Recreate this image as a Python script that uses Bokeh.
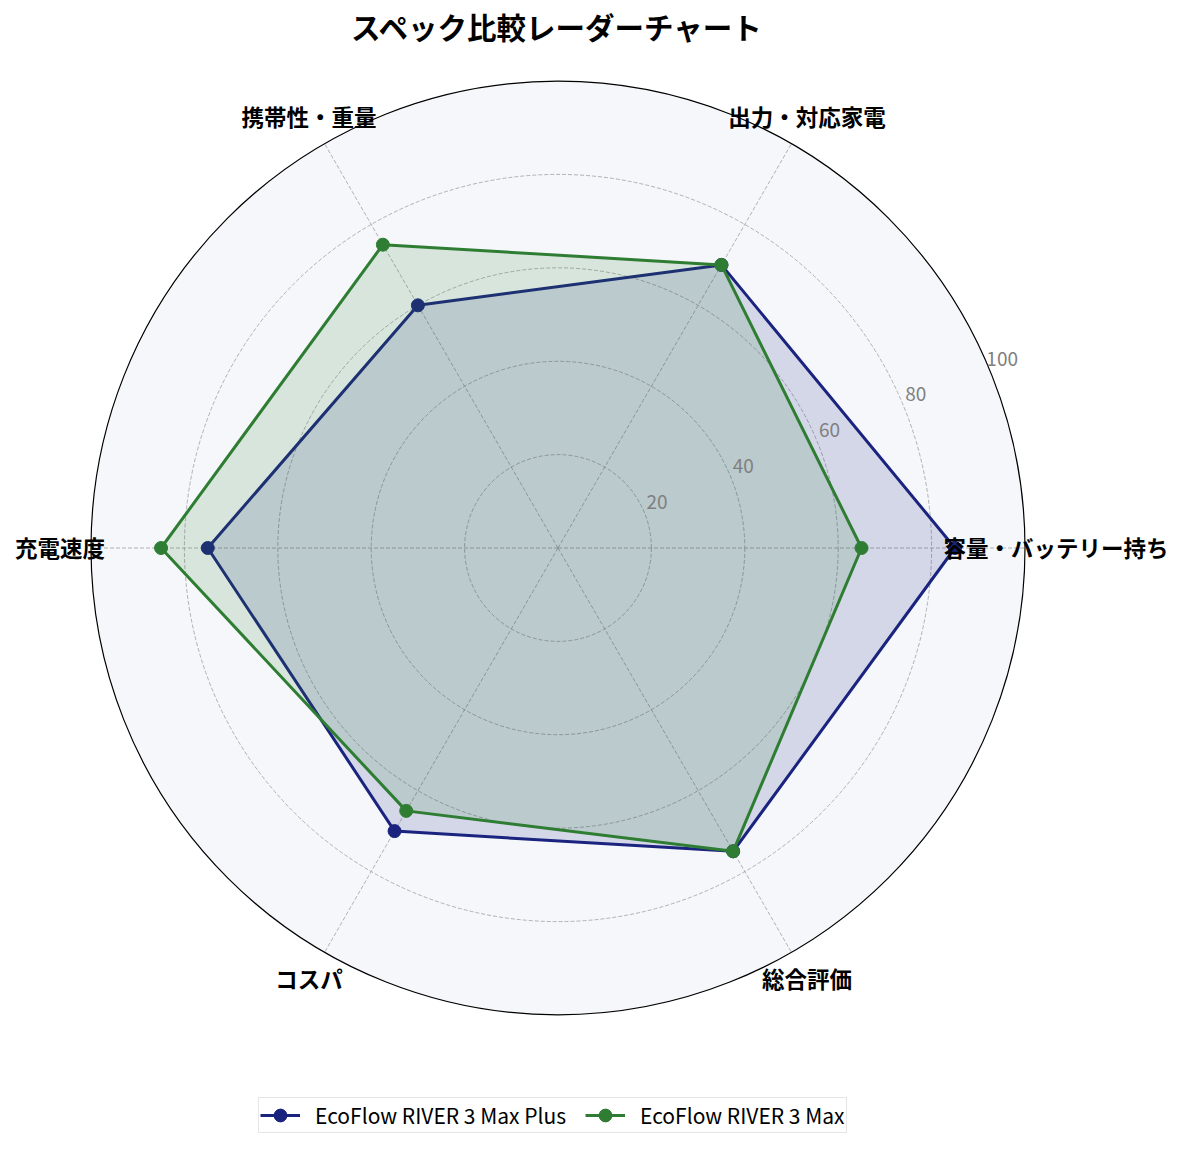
import numpy as np
from bokeh.plotting import figure
from bokeh.models import Range1d, Label
from bokeh.embed import file_html
from bokeh.resources import INLINE
from bokeh.core.properties import value

# ---- data ----
categories = ["容量・バッテリー持ち", "出力・対応家電", "携帯性・重量", "充電速度", "コスパ", "総合評価"]
plus_values = [85, 70, 60, 75, 70, 75]
max_values = [65, 70, 75, 85, 65, 75]
series_names = ["EcoFlow RIVER 3 Max Plus", "EcoFlow RIVER 3 Max"]
series_colors = ["#1a237e", "#2e7d32"]
radial_ticks = [20, 40, 60, 80]
tick_labels = ["20", "40", "60", "80", "100"]
tick_values = [20, 40, 60, 80, 100]
r_max = 100
title_text = "スペック比較レーダーチャート"

FONT = "Noto Sans CJK JP"

# ---- layout ----
W, H = 1169, 1133
scale = 4.67            # pixels per value unit
cx, cy = 557.5, 547.5   # centre in figure pixels (from top-left)

p = figure(width=W, height=H, output_backend="svg", toolbar_location=None,
           x_range=Range1d(-cx / scale, (W - cx) / scale),
           y_range=Range1d(-(H - cy) / scale, cy / scale),
           min_border=0, min_border_left=0, min_border_right=0,
           min_border_top=0, min_border_bottom=0)
p.axis.visible = False
p.grid.visible = False
p.outline_line_color = None
p.background_fill_color = "white"
p.border_fill_color = "white"

n = len(categories)
angles = np.arange(n) * 2 * np.pi / n

# polar background
p.circle(x=[0], y=[0], radius=[r_max], fill_color="#f5f7fb", line_color=None)

# grid circles
p.circle(x=[0] * len(radial_ticks), y=[0] * len(radial_ticks), radius=radial_ticks,
         fill_color=None, line_color="#a0a0a0", line_width=0.8, line_dash="4 2")
# spokes
p.segment(x0=[0] * n, y0=[0] * n, x1=list(r_max * np.cos(angles)), y1=list(r_max * np.sin(angles)),
          line_color="#a0a0a0", line_width=0.8, line_dash="4 2")

# series
for name, vals, col in zip(series_names, [plus_values, max_values], series_colors):
    v = np.array(vals + vals[:1], dtype=float)
    a = np.append(angles, angles[0])
    xs = v * np.cos(a)
    ys = v * np.sin(a)
    p.patch(list(xs), list(ys), fill_color=col, fill_alpha=0.15, line_color=None)
    p.line(list(xs), list(ys), line_color=col, line_width=3, legend_label=name)
    p.scatter(list(xs[:-1]), list(ys[:-1]), size=13, fill_color=col, line_color=col,
              legend_label=name)

# outer spine
p.circle(x=[0], y=[0], radius=[r_max], fill_color=None, line_color="black", line_width=1.2)

# radial tick labels
ra = np.deg2rad(22.5)
p.text(x=[t * np.cos(ra) for t in tick_values], y=[t * np.sin(ra) for t in tick_values],
       text=tick_labels, text_font=value(FONT), text_font_size="19px", text_color="#808080",
       text_align="center", text_baseline="middle", x_offset=12.7, y_offset=-10.6)

# category labels
lab_r = 498 / scale
p.text(x=list(lab_r * np.cos(angles)), y=list(lab_r * np.sin(angles)), text=categories,
       text_font=value(FONT), text_font_size="22.5px", text_font_style="bold", text_color="black",
       text_align="center", text_baseline="middle", y_offset=-1)

# title
p.add_layout(Label(x=557, y=H - 25, x_units="screen", y_units="screen", text=title_text,
                   text_font=FONT, text_font_size="29.5px", text_font_style="bold",
                   text_align="center", text_baseline="middle", text_color="black"))

# legend
lg = p.legend[0]
lg.location = (258, 0)
lg.orientation = "horizontal"
lg.glyph_width = 40
lg.glyph_height = 32
lg.label_height = 20
lg.label_text_font = FONT
lg.label_text_font_size = "21px"
lg.label_text_color = "black"
lg.label_standoff = 15
lg.spacing = 19
lg.padding = 1
lg.margin = 0
lg.border_line_color = "#cccccc"
lg.border_line_width = 1.5
lg.background_fill_color = "white"
lg.background_fill_alpha = 1.0

open("out.html", "w").write(file_html(p, INLINE))
